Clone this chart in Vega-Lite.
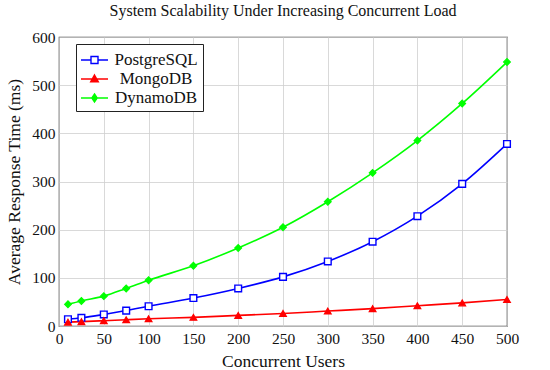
{
  "$schema": "https://vega.github.io/schema/vega-lite/v6.json",
  "autosize": {"type": "none"},
  "width": 448,
  "height": 289,
  "padding": {"left": 59, "top": 37, "right": 43, "bottom": 44},
  "background": "white",
  "title": {"text": "System Scalability Under Increasing Concurrent Load", "font": "Liberation Serif", "fontSize": 16, "fontWeight": "normal", "color": "#111", "anchor": "middle", "offset": 11},
  "config": {
    "view": {"stroke": "#444", "strokeWidth": 1.2},
    "axis": {"labelFont": "Liberation Serif", "titleFont": "Liberation Serif", "labelFontSize": 15.5, "titleFontSize": 17.5, "titleFontWeight": "normal", "labelColor": "#111", "titleColor": "#111", "gridColor": "#cfcfcf", "gridWidth": 0.8, "domain": false, "ticks": false, "labelFlush": false}
  },
  "data": {"values": [
    {"users": 10, "series": "PostgreSQL", "ms": 14}, {"users": 25, "series": "PostgreSQL", "ms": 17}, {"users": 50, "series": "PostgreSQL", "ms": 24}, {"users": 75, "series": "PostgreSQL", "ms": 32}, {"users": 100, "series": "PostgreSQL", "ms": 41}, {"users": 150, "series": "PostgreSQL", "ms": 58}, {"users": 200, "series": "PostgreSQL", "ms": 78}, {"users": 250, "series": "PostgreSQL", "ms": 102}, {"users": 300, "series": "PostgreSQL", "ms": 134}, {"users": 350, "series": "PostgreSQL", "ms": 175}, {"users": 400, "series": "PostgreSQL", "ms": 228}, {"users": 450, "series": "PostgreSQL", "ms": 295}, {"users": 500, "series": "PostgreSQL", "ms": 378},
    {"users": 10, "series": "MongoDB", "ms": 8}, {"users": 25, "series": "MongoDB", "ms": 9}, {"users": 50, "series": "MongoDB", "ms": 11}, {"users": 75, "series": "MongoDB", "ms": 13}, {"users": 100, "series": "MongoDB", "ms": 15}, {"users": 150, "series": "MongoDB", "ms": 18}, {"users": 200, "series": "MongoDB", "ms": 22}, {"users": 250, "series": "MongoDB", "ms": 26}, {"users": 300, "series": "MongoDB", "ms": 31}, {"users": 350, "series": "MongoDB", "ms": 36}, {"users": 400, "series": "MongoDB", "ms": 42}, {"users": 450, "series": "MongoDB", "ms": 48}, {"users": 500, "series": "MongoDB", "ms": 55},
    {"users": 10, "series": "DynamoDB", "ms": 45}, {"users": 25, "series": "DynamoDB", "ms": 52}, {"users": 50, "series": "DynamoDB", "ms": 62}, {"users": 75, "series": "DynamoDB", "ms": 78}, {"users": 100, "series": "DynamoDB", "ms": 95}, {"users": 150, "series": "DynamoDB", "ms": 125}, {"users": 200, "series": "DynamoDB", "ms": 162}, {"users": 250, "series": "DynamoDB", "ms": 205}, {"users": 300, "series": "DynamoDB", "ms": 258}, {"users": 350, "series": "DynamoDB", "ms": 318}, {"users": 400, "series": "DynamoDB", "ms": 385}, {"users": 450, "series": "DynamoDB", "ms": 462}, {"users": 500, "series": "DynamoDB", "ms": 548}
  ]},
  "encoding": {
    "x": {"field": "users", "type": "quantitative", "title": "Concurrent Users", "scale": {"domain": [0, 500], "nice": false}, "axis": {"values": [0, 50, 100, 150, 200, 250, 300, 350, 400, 450, 500], "labelPadding": 5, "titlePadding": 6}},
    "y": {"field": "ms", "type": "quantitative", "title": "Average Response Time (ms)", "scale": {"domain": [0, 600], "nice": false}, "axis": {"values": [0, 100, 200, 300, 400, 500, 600], "labelPadding": 4, "titlePadding": 8}}
  },
  "layer": [
    {
      "mark": {"type": "line", "strokeWidth": 1.6, "interpolate": "monotone"},
      "encoding": {
        "color": {"field": "series", "type": "nominal", "scale": {"domain": ["PostgreSQL", "MongoDB", "DynamoDB"], "range": ["#0000ff", "#ff0000", "#00ff00"]}, "legend": {
          "title": null, "orient": "none", "legendX": 17, "legendY": 7,
          "labelFont": "Liberation Serif", "labelFontSize": 17, "labelColor": "#111",
          "strokeColor": "#222", "fillColor": "white", "padding": 5, "rowPadding": 0,
          "symbolSize": 400, "symbolStrokeWidth": 1.4, "labelOffset": 53, "labelAlign": "center",
          "encode": {"symbols": {"update": {
            "x": {"value": 13.5},
            "shape": {"signal": "datum.value === 'PostgreSQL' ? 'M-1.35,0H-0.35M0.35,0H1.35M-0.35,-0.35H0.35V0.35H-0.35Z' : datum.value === 'MongoDB' ? 'M-1.35,0H1.35M0,-0.4L0.38,0.28H-0.38Z' : 'M-1.35,0H1.35M0,-0.4L0.27,0L0,0.4L-0.27,0Z'"},
            "fill": {"signal": "datum.value === 'PostgreSQL' ? 'white' : datum.value === 'MongoDB' ? '#ff0000' : '#00ff00'"}
          }}}
        }},
        "detail": {"field": "series"}
      }
    },
    {
      "transform": [{"filter": "datum.series === 'PostgreSQL'"}],
      "mark": {"type": "point", "shape": "square", "size": 45, "strokeWidth": 1.4, "opacity": 1, "stroke": "#0000ff", "fill": "white", "filled": false}
    },
    {
      "transform": [{"filter": "datum.series === 'MongoDB'"}],
      "mark": {"type": "point", "shape": "triangle-up", "size": 45, "strokeWidth": 1.2, "opacity": 1, "stroke": "#ff0000", "fill": "#ff0000"}
    },
    {
      "transform": [{"filter": "datum.series === 'DynamoDB'"}],
      "mark": {"type": "point", "shape": "diamond", "size": 45, "strokeWidth": 1.2, "opacity": 1, "stroke": "#00ff00", "fill": "#00ff00"}
    }
  ]
}
